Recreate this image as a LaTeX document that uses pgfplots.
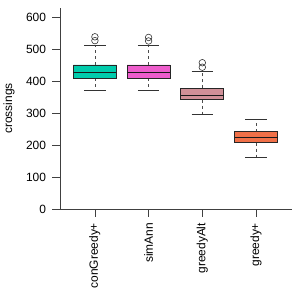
\documentclass[border=0pt]{standalone}
\usepackage{pgfplots}
\pgfplotsset{compat=1.18}
\usepackage{fontspec}
\setmainfont{Liberation Sans}
\definecolor{cteal}{RGB}{0,204,172}
\definecolor{cpink}{RGB}{238,92,204}
\definecolor{crose}{RGB}{208,144,152}
\definecolor{corange}{RGB}{240,112,72}
\begin{document}
\begin{tikzpicture}
\begin{axis}[
  scale only axis,
  width=232bp, height=201bp,
  xmin=0.35, xmax=4.67,
  ymin=0, ymax=628,
  axis lines=left,
  axis line style={-, line width=0.8pt, draw=black!75},
  tick style={line width=0.8pt, draw=black!75},
  tick align=outside,
  major tick length=7.5bp,
  xtick={1,2,3,4},
  xticklabels={conGreedy+,simAnn,greedyAlt,greedy+},
  xticklabel shift=3bp,
  xticklabel style={rotate=90, anchor=east, font=\fontsize{12}{14}\selectfont},
  ytick={0,100,200,300,400,500,600},
  yticklabel style={font=\fontsize{12}{14}\selectfont, xshift=-3bp},
  /pgf/number format/assume math mode=true,
  ylabel={crossings},
  every axis y label/.style={at={(axis description cs:-0.22,0.5)}, rotate=90, anchor=center, font=\fontsize{12}{14}\selectfont},
  whisk/.style={black!70, line width=0.8pt, dash pattern=on 3bp off 3bp},
  cap/.style={black!80, line width=0.8pt},
  box/.style={draw=black!85, line width=0.8pt},
  med/.style={black!90, line width=1.1pt},
  outl/.style={only marks, mark=o, mark size=3.3bp, mark options={black!80, line width=0.6pt}},
]
% conGreedy+ : lw 369, lq 408, med 427, uq 450, uw 511
\addplot[whisk] coordinates {(1,450) (1,511)};
\addplot[whisk] coordinates {(1,408) (1,369)};
\addplot[cap] coordinates {(0.8,511) (1.2,511)};
\addplot[cap] coordinates {(0.8,369) (1.2,369)};
\addplot[box, fill=cteal] coordinates {(0.6,408) (1.4,408) (1.4,450) (0.6,450) (0.6,408)};
\addplot[med] coordinates {(0.6,427) (1.4,427)};
\addplot[outl] coordinates {(1,538) (1,526)};
% simAnn
\addplot[whisk] coordinates {(2,450) (2,511)};
\addplot[whisk] coordinates {(2,408) (2,369)};
\addplot[cap] coordinates {(1.8,511) (2.2,511)};
\addplot[cap] coordinates {(1.8,369) (2.2,369)};
\addplot[box, fill=cpink] coordinates {(1.6,408) (2.4,408) (2.4,450) (1.6,450) (1.6,408)};
\addplot[med] coordinates {(1.6,427) (2.4,427)};
\addplot[outl] coordinates {(2,536) (2,525)};
% greedyAlt
\addplot[whisk] coordinates {(3,377) (3,429)};
\addplot[whisk] coordinates {(3,342) (3,295)};
\addplot[cap] coordinates {(2.8,429) (3.2,429)};
\addplot[cap] coordinates {(2.8,295) (3.2,295)};
\addplot[box, fill=crose] coordinates {(2.6,342) (3.4,342) (3.4,377) (2.6,377) (2.6,342)};
\addplot[med] coordinates {(2.6,354) (3.4,354)};
\addplot[outl] coordinates {(3,457) (3,443)};
% greedy+
\addplot[whisk] coordinates {(4,242) (4,279)};
\addplot[whisk] coordinates {(4,207) (4,160)};
\addplot[cap] coordinates {(3.8,279) (4.2,279)};
\addplot[cap] coordinates {(3.8,160) (4.2,160)};
\addplot[box, fill=corange] coordinates {(3.6,207) (4.4,207) (4.4,242) (3.6,242) (3.6,207)};
\addplot[med] coordinates {(3.6,224) (4.4,224)};
\end{axis}
\path (current axis.south west) ++(-60bp,-90bp) rectangle ++(299bp,299bp);
\end{tikzpicture}
\end{document}
